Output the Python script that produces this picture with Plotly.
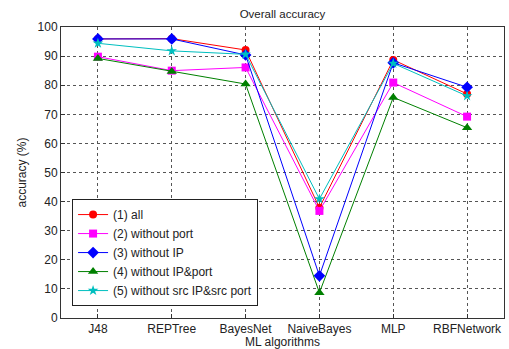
import plotly.graph_objects as go

categories = ["J48", "REPTree", "BayesNet", "NaiveBayes", "MLP", "RBFNetwork"]
s_all = [95.9, 96.0, 92.1, 37.9, 88.7, 77.0]
s_noport = [89.8, 85.0, 86.1, 36.8, 80.9, 69.2]
s_noip = [95.9, 95.9, 90.4, 14.5, 87.7, 79.3]
s_noipport = [89.2, 84.7, 80.4, 8.7, 75.8, 65.4]
s_nosrc = [94.4, 91.8, 90.6, 40.9, 87.5, 76.3]
y_ticks = [0, 10, 20, 30, 40, 50, 60, 70, 80, 90, 100]

series = [
    ("(1) all", s_all, "#ff0000", "circle", 8),
    ("(2) without port", s_noport, "#ff00ff", "square", 8),
    ("(3) without IP", s_noip, "#0000ff", "diamond", 9),
    ("(4) without IP&port", s_noipport, "#008000", "triangle-up", 9),
    ("(5) without src IP&src port", s_nosrc, "#00bfbf", "star", 8),
]

xpos = list(range(1, len(categories) + 1))
fig = go.Figure()
for name, vals, col, sym, sz in series:
    fig.add_trace(go.Scatter(
        x=xpos, y=vals, name=name, mode="lines+markers",
        line=dict(color=col, width=1),
        marker=dict(symbol=sym, size=sz, color=col, line=dict(width=0)),
    ))

font = dict(family="Liberation Sans, Arial, sans-serif", size=12, color="#222")
fig.update_layout(
    width=509, height=349,
    margin=dict(l=61, r=5, t=27, b=31),
    paper_bgcolor="white", plot_bgcolor="white",
    font=font,
    title=dict(text="Overall accuracy", x=0.5, xref="paper", xanchor="center",
               y=1 - 14 / 349, yanchor="middle", font=dict(size=11.5, color="#222")),
    xaxis=dict(
        range=[0.5, 6.5], tickvals=xpos, ticktext=categories,
        showgrid=True, gridcolor="#555", griddash="dot", gridwidth=1,
        showline=True, linecolor="#333", linewidth=1, mirror=True,
        ticks="inside", ticklen=4, tickcolor="#333",
        zeroline=False, tickfont=dict(size=12), automargin=False,
        title=dict(text="ML algorithms", standoff=1, font=dict(size=12)),
    ),
    yaxis=dict(
        range=[0, 100], tickvals=y_ticks,
        showgrid=True, gridcolor="#555", griddash="dot", gridwidth=1,
        showline=True, linecolor="#333", linewidth=1, mirror=True,
        ticks="inside", ticklen=4, tickcolor="#333",
        zeroline=False, tickfont=dict(size=12), automargin=False,
        title=dict(text="accuracy (%)", standoff=8, font=dict(size=12)),
    ),
    legend=dict(
        x=0.025, y=0.041, xanchor="left", yanchor="bottom",
        bordercolor="#222", borderwidth=1, bgcolor="white",
        font=dict(size=12, color="#222"), tracegroupgap=0,
    ),
)
fig.write_html("out.html")
